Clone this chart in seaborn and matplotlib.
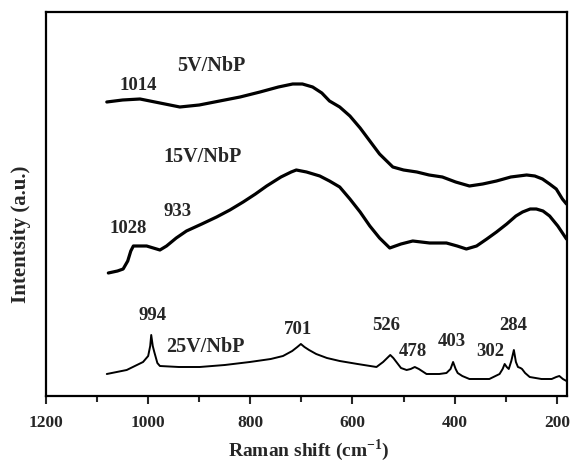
import matplotlib
matplotlib.use("Agg")
import matplotlib.pyplot as plt
from matplotlib.ticker import MultipleLocator
import numpy as np
import pandas as pd
import seaborn as sns

# Raman spectra (wavenumber in cm-1, intensity in arbitrary units, offset per sample)
shift_5v = [1081, 1050, 1016, 977, 938, 900, 860, 820, 781, 745, 717, 698, 678, 660,
            645, 625, 605, 585, 566, 547, 521, 500, 474, 450, 424, 398, 371, 345,
            318, 290, 259, 243, 228, 214, 201, 189, 181]
int_5v = [294, 296, 297, 293, 289, 291, 295, 299, 304, 309, 312, 312, 309, 303,
          295, 289, 280, 268, 255, 242, 229, 226, 224, 221, 219, 214, 210, 212,
          215, 219, 221, 220, 217, 212, 207, 197, 192]

shift_15v = [1078, 1060, 1049, 1040, 1034, 1029, 1016, 1003, 990, 977, 964, 945, 925,
             895, 866, 840, 814, 790, 768, 740, 720, 710, 690, 664, 645, 625, 605,
             585, 566, 547, 527, 505, 482, 449, 416, 395, 377, 357, 337, 318, 298,
             280, 267, 252, 240, 227, 214, 198, 181]
int_15v = [123, 125, 127, 135, 145, 150, 150, 150, 148, 146, 150, 158, 165,
           172, 179, 186, 194, 202, 210, 219, 224, 226, 224, 220, 215, 209, 197,
           184, 170, 158, 148, 152, 155, 153, 153, 150, 147, 150, 157, 164, 172,
           180, 184, 187, 187, 185, 180, 170, 157]

shift_25v = [1081, 1042, 1010, 1000, 996, 994, 991, 988, 982, 977, 940, 899, 850, 801,
             760, 736, 718, 708, 701, 694, 685, 671, 650, 625, 590, 553, 540, 532,
             526, 520, 514, 505, 494, 486, 478, 470, 455, 430, 416, 408, 403, 398,
             394, 385, 371, 350, 332, 312, 306, 302, 298, 294, 289, 284, 280, 276,
             271, 268, 262, 253, 230, 210, 201, 195, 188, 181]
int_25v = [22, 26, 34, 40, 50, 61, 50, 44, 33, 30, 29, 29, 31, 34,
           37, 40, 45, 49, 52, 49, 46, 42, 38, 35, 32, 29, 34, 38,
           41, 38, 34, 28, 26, 27, 29, 27, 22, 22, 23, 27, 34, 27,
           23, 20, 17, 17, 17, 22, 27, 32, 29, 27, 35, 46, 34, 29,
           28, 27, 23, 19, 17, 17, 19, 20, 17, 15]

# Peak annotations: (text, x in cm-1, y in intensity units)
peak_labels = [
    ("1014", 1020, 311),
    ("1028", 1040, 168),
    ("933", 943, 185),
    ("994", 992, 81),
    ("701", 707, 67),
    ("526", 534, 71),
    ("478", 481, 45),
    ("403", 405, 55),
    ("302", 331, 45),
    ("284", 286, 71),
]
sample_labels = [
    ("5V/NbP", 876, 331),
    ("15V/NbP", 894, 240),
    ("25V/NbP", 888, 50),
]

frames = []
for name, xs, ys in [("5V/NbP", shift_5v, int_5v),
                     ("15V/NbP", shift_15v, int_15v),
                     ("25V/NbP", shift_25v, int_25v)]:
    frames.append(pd.DataFrame({"shift": xs, "intensity": ys, "sample": name}))
df = pd.concat(frames, ignore_index=True)

sns.set_style("ticks")
plt.rcParams["font.family"] = ["Liberation Serif", "DejaVu Serif"]
plt.rcParams["font.weight"] = "bold"
plt.rcParams["mathtext.fontset"] = "custom"
plt.rcParams["mathtext.rm"] = "Liberation Serif:bold"
plt.rcParams["mathtext.bf"] = "Liberation Serif:bold"

fig = plt.figure(figsize=(5.73, 4.64), dpi=100)
ax = fig.add_axes([0.0803, 0.1444, 0.9092, 0.8276])

widths = {"5V/NbP": 2.3, "15V/NbP": 2.3, "25V/NbP": 1.4}
for name, sub in df.groupby("sample", sort=False):
    sns.lineplot(data=sub, x="shift", y="intensity", color="black",
                 linewidth=widths[name], ax=ax, sort=False, estimator=None)

ax.set_xlim(1200, 180)
ax.set_ylim(0, 384)
ax.set_yticks([])
ax.xaxis.set_major_locator(MultipleLocator(200))
ax.xaxis.set_minor_locator(MultipleLocator(100))
ax.tick_params(axis="x", which="major", direction="out", length=6, width=1.5,
               labelsize=12.5, pad=7)
ax.tick_params(axis="x", which="minor", direction="out", length=4, width=1.5)
for lab in ax.get_xticklabels():
    lab.set_fontweight("bold")
for sp in ax.spines.values():
    sp.set_linewidth(1.6)
    sp.set_color("black")

ax.set_xlabel(r"Raman shift (cm$^{-1}$)", fontsize=14, fontweight="bold")
ax.xaxis.set_label_coords(0.505, -0.105)
ax.set_ylabel("Intentsity (a.u.)", fontsize=15, fontweight="bold")
ax.yaxis.set_label_coords(-0.028, 0.423)

for txt, x, y in peak_labels:
    ax.text(x, y, txt, ha="center", va="center", fontsize=13.5, fontweight="bold")
for txt, x, y in sample_labels:
    ax.text(x, y, txt, ha="center", va="center", fontsize=14.5, fontweight="bold")

fig.savefig("out.png", dpi=100)
